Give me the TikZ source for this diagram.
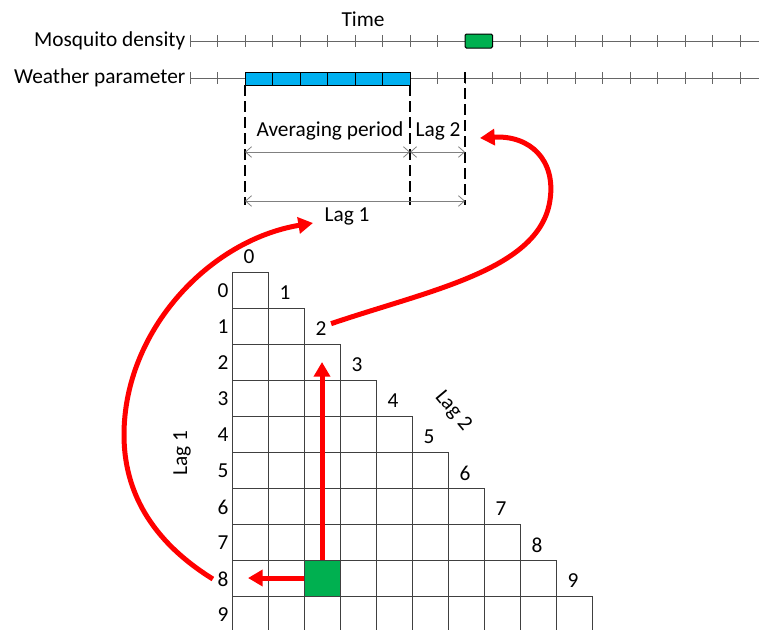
\documentclass[tikz,border=0pt]{standalone}
\usepackage{fontspec}
\setmainfont{Carlito}
\usetikzlibrary{arrows.meta}

\definecolor{avgblue}{RGB}{0,176,240}
\definecolor{mosqgreen}{RGB}{0,176,80}

\begin{document}
\begin{tikzpicture}[x=0.75pt,y=-0.75pt,
  every node/.style={font=\fontsize{16}{19}\selectfont},
  tickline/.style={draw=black!60,line width=0.75pt},
  dimarrow/.style={draw=black!50,line width=0.6pt,{Straight Barb[length=4.5pt,width=8pt]}-{Straight Barb[length=4.5pt,width=8pt]}},
  guideline/.style={line width=2.2pt,dash pattern=on 8pt off 4pt},
  gridcell/.style={draw=black!75,line width=0.6pt},
  redarrow/.style={draw=red,line width=3.75pt,-{Triangle[length=11pt,width=12pt]}}]

\clip (0,0) rectangle (759,629);

% Time axes
\node (time) at (363,19) {Time};
\node[anchor=east] (mosq) at (190,41) {Mosquito density};
\node[anchor=east] (weather) at (190,78) {Weather parameter};
\draw[tickline] (mosq.east) -- ++(569,0);
\draw[tickline] (weather.east) -- ++(569,0);
\foreach \i in {0,...,20}{
  \draw[tickline] ({190+27.5*\i},35) -- ++(0,12);
  \draw[tickline] ({190+27.5*\i},72) -- ++(0,12);
}

% Averaging period and observation
\foreach \i in {0,...,5}
  \draw[fill=avgblue,line width=0.75pt] ({245+27.5*\i},72) rectangle ++(27.5,13);
\draw[fill=mosqgreen,line width=0.75pt,rounded corners=1pt] (465,34) rectangle (492.5,48);

% Guides
\draw[guideline] (245,85) -- (245,205);
\draw[guideline] (410,85) -- (410,205);
\draw[guideline] (465,72) -- (465,205);

% Periods
\coordinate (avgL) at (245,152);
\coordinate (avgR) at (410,152);
\coordinate (lagR) at (465,152);
\coordinate (lag1L) at (245,201);
\coordinate (lag1R) at (465,201);
\draw[dimarrow] (avgL) -- (avgR);
\draw[dimarrow] (avgR) -- (lagR);
\draw[dimarrow] (lag1L) -- (lag1R);
\node (avgtext) at (330,131) {Averaging period};
\node (lag2text) at (438,131) {Lag 2};
\node (lag1text) at (347,216) {Lag 1};

% Lag grid
\foreach \r in {0,...,9}{
  \foreach \c in {0,...,\r}
    \draw[gridcell] ({232+36*\c},{272+36*\r}) rectangle ++(36,36);
  \node (r\r) at (223,{291+36*\r}) {\r};
  \node (c\r) at ({249+36*\r},{257+36*\r}) {\r};
}
\node[rotate=90] (lag1side) at (182,453) {Lag 1};
\node[rotate=-50] (lag2side) at (453,411) {Lag 2};

% Selected cell
\node[gridcell,fill=mosqgreen,minimum size=27pt,inner sep=0pt] (target) at (322,578) {};

% Red arrows
\coordinate (up) at (322,362);
\coordinate (left) at (248,578);
\coordinate (lag2tip) at (480,138);
\coordinate (lag1tip) at (313,223);
\draw[redarrow] (target.north) -- (up);
\draw[redarrow] (target.west) -- (left);
\draw[redarrow] ([yshift=4pt]c2.east) .. controls (430,290) and (540,270) .. (550,200)
  .. controls (556,160) and (530,135) .. (lag2tip);
\draw[redarrow] (r8.west) .. controls (150,540) and (124,490) .. (124,435)
  .. controls (124,330) and (210,240) .. (lag1tip);

\end{tikzpicture}
\end{document}
